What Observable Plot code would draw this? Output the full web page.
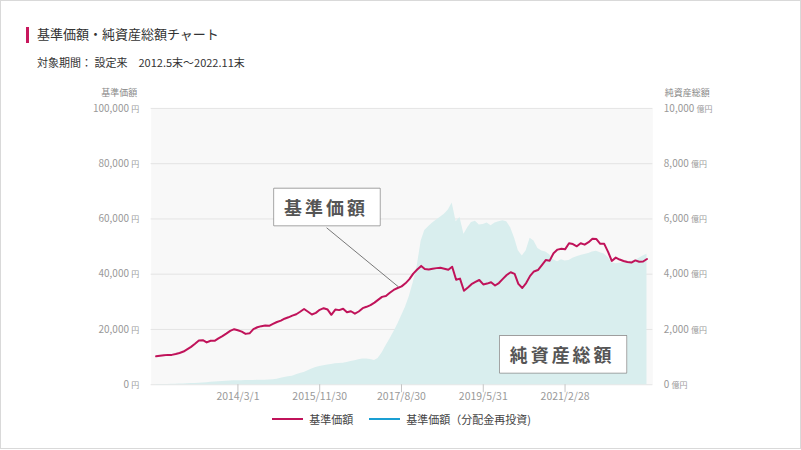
<!DOCTYPE html>
<html lang="ja">
<head>
<meta charset="utf-8">
<script src="https://cdn.jsdelivr.net/npm/d3@7"></script>
<script src="https://cdn.jsdelivr.net/npm/@observablehq/plot@0.6"></script>
<style>
  html, body { margin: 0; padding: 0; background: #fff; }
  body { font-family: "Noto Sans CJK JP", "Noto Sans", sans-serif; }
  #card { position: relative; width: 801px; height: 449px; box-sizing: border-box; border: 1px solid #d9d9d9; overflow: hidden; }
  #bar { position: absolute; left: 25px; top: 26px; width: 3px; height: 16px; background: #c8175d; }
  #title { position: absolute; left: 36px; top: 24px; font-size: 13px; line-height: 18px; color: #333; }
  #subtitle { position: absolute; left: 36px; top: 53px; font-size: 11px; line-height: 16px; color: #333; white-space: pre; }
  #chart { position: absolute; left: 0; top: 75px; }
  #legend { position: absolute; left: 0; top: 410px; width: 801px; display: flex; justify-content: center; align-items: center; font-size: 11px; color: #444; }
  .item { display: flex; align-items: center; margin: 0 8px; }
  .sw { display: inline-block; width: 31px; height: 2px; margin-right: 6px; }
</style>
</head>
<body>
<div id="card">
  <div id="bar"></div>
  <div id="title">基準価額・純資産総額チャート</div>
  <div id="subtitle">対象期間： 設定来　2012.5末～2022.11末</div>
  <div id="chart"></div>
  <div id="legend"></div>
</div>
<script>
// ---- data (monthly, 2012-05 end to 2022-11 end) ----
const startYear = 2012, startMonth = 5;
const priceValues = [
 10300,10500,10700,10800,10800,11100,11500,12000,12900,13700,
 14800,16000,16100,15300,15900,15900,16800,17600,18500,19500,
 20100,19700,19200,18400,18600,20100,20800,21200,21400,21300,
 22000,22700,23200,23900,24400,25000,25500,26400,27400,26400,
 25400,26000,27100,27700,27200,25300,27200,27000,27500,26200,
 26600,25700,26500,27700,28200,28800,29700,30700,31800,32100,
 33300,34300,35000,35600,36700,38200,40200,41700,43000,41900,
 41700,42000,42200,42300,42000,41600,42700,38000,38400,34000,
 35200,36400,37200,37900,36300,36600,37100,35900,36800,38300,
 39700,40700,40100,36500,35000,36800,39400,41000,41500,43300,
 45100,44900,47600,48900,49200,49000,51200,50900,50100,51200,
 50700,51600,52800,52700,51000,51000,48000,44800,46000,45300,
 44800,44400,44200,45000,44500,44600,45500
];
const navValues = [
 5,8,10,12,15,18,22,27,33,40,
 48,56,65,75,85,95,105,115,125,133,
 140,145,148,150,152,155,158,160,163,168,
 180,200,230,260,285,310,360,410,444,510,
 570,620,660,686,710,730,755,769,775,800,
 840,866,900,928,930,910,880,950,1150,1400,
 1650,1900,2180,2500,2800,3200,3700,4300,5200,5580,
 5730,5850,5960,6060,6170,6320,6580,5900,6050,5450,
 5690,5870,5920,5780,5800,5850,5750,5850,5900,5930,
 5900,5680,5300,4850,4660,4850,5300,5200,4930,4840,
 4800,4700,4520,4450,4520,4480,4500,4580,4630,4680,
 4710,4750,4800,4830,4780,4730,4600,4410,4380,4400,
 4420,4440,4470,4500,4580,4660,4720
];
const xTickLabels = ["2014/3/1","2015/11/30","2017/8/30","2019/5/31","2021/2/28"];
const priceTicks = [0,20000,40000,60000,80000,100000];
const navTicks = [0,2000,4000,6000,8000,10000];
const xDomain = ["2012-04-22","2023-01-15"];
const annotations = [
  {label:"基準価額", date:"2016-01-18", value:63500, fromDate:"2016-01-23", fromValue:56800, toDate:"2017-08-07", toValue:35400},
  {label:"純資産総額", date:"2021-02-05", value:10200}
];
const legendItems = [
  {label:"基準価額", color:"#c0135a"},
  {label:"基準価額（分配金再投資)", color:"#1a9fd3"}
];

// ---- build table ----
const data = priceValues.map((p, i) => ({
  date: d3.utcDay.offset(d3.utcMonth.offset(new Date(Date.UTC(startYear, startMonth, 1)), i), -1),
  price: p,
  nav: navValues[i],
  navScaled: navValues[i] * 10
}));
const xTicks = xTickLabels.map(s => { const [y, m, d] = s.split("/").map(Number); return new Date(Date.UTC(y, m - 1, d)); });
const ann = annotations.map(a => ({...a, d: new Date(a.date), fd: a.fromDate ? new Date(a.fromDate) : null, td: a.toDate ? new Date(a.toDate) : null}));
const fmt = d3.format(",");
const font = "'Noto Sans CJK JP', 'Noto Sans', sans-serif";

const chart = Plot.plot({
  width: 801,
  height: 335,
  marginLeft: 150,
  marginRight: 148,
  marginTop: 32,
  marginBottom: 26,
  style: {fontFamily: font, fontSize: "10px", color: "#999", background: "transparent", overflow: "visible"},
  x: {type: "utc", domain: xDomain.map(s => new Date(s))},
  y: {domain: [0, 100000]},
  marks: [
    Plot.frame({fill: "#f8f8f8", stroke: "none"}),
    Plot.gridY(priceTicks, {stroke: "#e4e4e4", strokeOpacity: 1}),
    Plot.areaY(data, {x: "date", y: "navScaled", fill: "#d9eeee", fillOpacity: 1}),
    Plot.lineY(data, {x: "date", y: "price", stroke: "#c0135a", strokeWidth: 2}),
    Plot.link(ann.filter(a => a.fd), {x1: "fd", y1: "fromValue", x2: "td", y2: "toValue", stroke: "#777", strokeWidth: 1}),
    Plot.text(ann, {x: "d", y: "value", text: "label", fontSize: 18, fontWeight: "bold", fill: "#555", stroke: "#fff", strokeWidth: 0.01}),
    Plot.axisY(priceTicks, {anchor: "left", tickSize: 0, tickPadding: 12, label: null, fill: "#999", tickFormat: d => fmt(d) + " 円"}),
    Plot.axisY(priceTicks, {anchor: "right", tickSize: 0, tickPadding: 11, label: null, fill: "#999", tickFormat: d => fmt(d / 10) + " 億円"}),
    Plot.axisX(xTicks, {tickSize: 8, tickPadding: 0, label: null, stroke: "#c4c4c4", fill: "#999", fontSize: 10.5, tickFormat: d => `${d.getUTCFullYear()}/${d.getUTCMonth()+1}/${d.getUTCDate()}`}),
    Plot.text(["基準価額"], {frameAnchor: "top-left", dx: -50, dy: -19, textAnchor: "start", fontSize: 9, fill: "#888"}),
    Plot.text(["純資産総額"], {frameAnchor: "top-right", dx: 12, dy: -19, textAnchor: "start", fontSize: 9, fill: "#888"})
  ]
});
document.getElementById("chart").appendChild(chart);

// smaller unit suffix in tick labels
chart.querySelectorAll("text").forEach(t => {
  const m = t.textContent.match(/^([\d,]+) (円|億円)$/);
  if (m) {
    t.textContent = "";
    const a = document.createElementNS("http://www.w3.org/2000/svg", "tspan");
    a.textContent = m[1] + " ";
    const b = document.createElementNS("http://www.w3.org/2000/svg", "tspan");
    b.textContent = m[2];
    b.setAttribute("font-size", "8");
    t.appendChild(a); t.appendChild(b);
  }
});

// boxes behind annotation labels (the text mark with font-size 18)
const annoLabels = annotations.map(a => a.label);
chart.querySelectorAll("g").forEach(g => {
  if (g.getAttribute("font-size") !== "18") return;
  g.querySelectorAll("text").forEach(t => {
    if (!annoLabels.includes(t.textContent)) return;
    t.setAttribute("stroke", "none");
    t.style.letterSpacing = "3px";
    const b = t.getBBox();
    const r = document.createElementNS("http://www.w3.org/2000/svg", "rect");
    const w = b.width + 22, h = 37;
    r.setAttribute("x", b.x + b.width / 2 - w / 2 + 1);
    r.setAttribute("y", b.y + b.height / 2 - h / 2);
    r.setAttribute("width", w);
    r.setAttribute("height", h);
    r.setAttribute("fill", "#fff");
    r.setAttribute("stroke", "#8a8a8a");
    r.setAttribute("stroke-width", "1.5");
    const tf = t.getAttribute("transform");
    if (tf) r.setAttribute("transform", tf);
    g.insertBefore(r, g.firstChild);
  });
});

// legend
const lg = document.getElementById("legend");
legendItems.forEach(it => {
  const el = document.createElement("div");
  el.className = "item";
  el.innerHTML = `<span class="sw" style="background:${it.color}"></span><span>${it.label}</span>`;
  lg.appendChild(el);
});
</script>
</body>
</html>
